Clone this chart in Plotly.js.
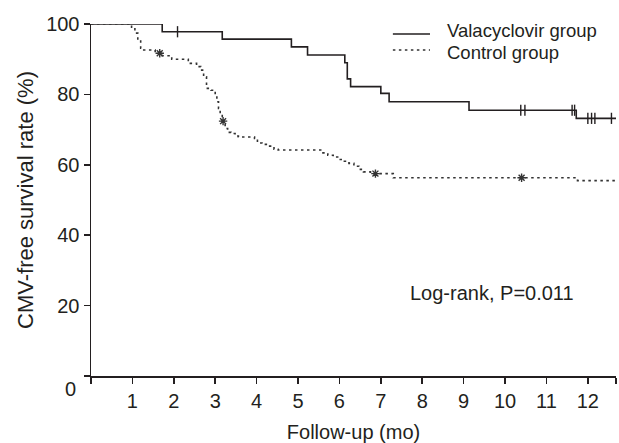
<!DOCTYPE html>
<html>
<head>
<meta charset="utf-8">
<script src="https://cdn.plot.ly/plotly-3.0.1.min.js"></script>
<style>html,body{margin:0;padding:0;background:#fff;}#chart{width:619px;height:443px;}</style>
</head>
<body>
<div id="chart"></div>
<script>
// Valacyclovir group: Kaplan-Meier steps (months, % CMV-free)
const valaTime = [0, 1.72, 3.17, 4.84, 5.23, 6.13, 6.19, 6.27, 7.00, 7.20, 9.13, 11.72, 12.68];
const valaSurv = [100, 97.8, 95.7, 93.5, 91.2, 89.0, 84.4, 82.2, 80.3, 77.9, 75.5, 73.2, 73.2];
const valaCensTime = [2.09, 10.38, 10.48, 11.62, 11.68, 12.00, 12.09, 12.17, 12.57];
const valaCensSurv = [97.8, 75.5, 75.5, 75.5, 75.5, 73.2, 73.2, 73.2, 73.2];

// Control group
const ctrlTime = [0, 0.98, 1.06, 1.13, 1.20, 1.22, 1.55, 1.72, 1.95, 2.35, 2.55, 2.65, 2.72, 2.79, 2.90, 3.00, 3.04, 3.08, 3.12, 3.17, 3.24, 3.30, 3.38, 3.48, 3.56, 3.95, 4.02, 4.13, 4.28, 4.42, 4.52, 5.58, 5.72, 5.85, 5.98, 6.12, 6.23, 6.35, 6.47, 6.58, 6.75, 7.30, 11.75, 12.68];
const ctrlSurv = [100, 99.1, 97.4, 95.4, 93.1, 92.6, 91.7, 91.0, 90.0, 88.8, 87.9, 86.9, 85.0, 81.7, 81.2, 79.8, 77.9, 76.0, 74.6, 72.4, 70.3, 69.2, 68.9, 68.2, 67.9, 67.5, 66.2, 65.8, 65.3, 64.4, 64.2, 63.4, 62.7, 62.2, 61.5, 61.0, 60.4, 59.6, 58.7, 58.0, 57.5, 56.3, 55.5, 55.5];
const ctrlCensTime = [1.66, 3.19, 6.87, 10.40];
const ctrlCensSurv = [91.7, 72.4, 57.5, 56.3];

const xTickVals = [0, 1, 2, 3, 4, 5, 6, 7, 8, 9, 10, 11, 12, 12.68];
const xTickText = ['', '1', '2', '3', '4', '5', '6', '7', '8', '9', '10', '11', '12', ''];
const yTickVals = [0, 20, 40, 60, 80, 100];
const yTickText = ['', '20', '40', '60', '80', '100'];

const seriesNames = ['Valacyclovir group', 'Control group'];
const ink = '#231f20';
const ink2 = '#333333';
const FONT = 'Liberation Sans, Arial, Helvetica, sans-serif';

const traces = [
  {x: valaTime, y: valaSurv, mode: 'lines', line: {shape: 'hv', color: ink, width: 1.6}, cliponaxis: false, showlegend: false, name: seriesNames[0]},
  {x: ctrlTime, y: ctrlSurv, mode: 'lines', line: {shape: 'hv', color: ink2, width: 1.6, dash: '2.5px,3.5px'}, cliponaxis: false, showlegend: false, name: seriesNames[1]},
  {x: valaCensTime, y: valaCensSurv, mode: 'markers', marker: {symbol: 'line-ns-open', size: 8, color: ink, line: {color: ink, width: 1.4}}, cliponaxis: false, showlegend: false},
  {x: ctrlCensTime, y: ctrlCensSurv, mode: 'markers', marker: {symbol: 'asterisk-open', size: 7, color: ink2, line: {color: ink2, width: 1.4}}, cliponaxis: false, showlegend: false}
];

const axisCommon = {
  showline: true, linecolor: ink, linewidth: 1.5,
  ticks: 'outside', ticklen: 6, tickwidth: 1.5, tickcolor: ink,
  showgrid: false, zeroline: false,
  tickfont: {family: FONT, size: 20, color: ink}
};

const layout = {
  width: 619, height: 443,
  margin: {l: 91, r: 3, t: 24, b: 67},
  paper_bgcolor: '#fff', plot_bgcolor: '#fff',
  font: {family: FONT, color: ink},
  xaxis: Object.assign({}, axisCommon, {
    range: [0, 12.68], tickmode: 'array', tickvals: xTickVals, ticktext: xTickText,
    title: {text: 'Follow-up (mo)', font: {family: FONT, size: 20, color: ink}, standoff: 14}
  }),
  yaxis: Object.assign({}, axisCommon, {
    range: [0, 100], tickmode: 'array', tickvals: yTickVals, ticktext: yTickText,
    title: {text: 'CMV-free survival rate (%)', font: {family: FONT, size: 22, color: ink}, standoff: 6}
  }),
  shapes: [
    {type: 'line', xref: 'paper', yref: 'paper', x0: 0.575, x1: 0.6457, y0: 0.9716, y1: 0.9716, line: {color: ink, width: 1.6}},
    {type: 'line', xref: 'paper', yref: 'paper', x0: 0.575, x1: 0.6457, y0: 0.926, y1: 0.926, line: {color: ink2, width: 1.6, dash: '2.5px,3.5px'}}
  ],
  annotations: [
    {xref: 'paper', yref: 'paper', x: 0.6743, y: 0.9815, xanchor: 'left', yanchor: 'middle', showarrow: false, text: seriesNames[0], font: {family: FONT, size: 18.5, color: ink}},
    {xref: 'paper', yref: 'paper', x: 0.6743, y: 0.9185, xanchor: 'left', yanchor: 'middle', showarrow: false, text: seriesNames[1], font: {family: FONT, size: 18.5, color: ink}},
    {xref: 'paper', yref: 'paper', x: 0.604, y: 0.235, xanchor: 'left', yanchor: 'middle', showarrow: false, text: 'Log-rank, P=0.011', font: {family: FONT, size: 20, color: ink}},
    {xref: 'paper', yref: 'paper', x: -0.039, y: -0.037, xanchor: 'center', yanchor: 'middle', showarrow: false, text: '0', font: {family: FONT, size: 20, color: ink}}
  ]
};

Plotly.newPlot('chart', traces, layout, {displayModeBar: false, staticPlot: true});
</script>
</body>
</html>
